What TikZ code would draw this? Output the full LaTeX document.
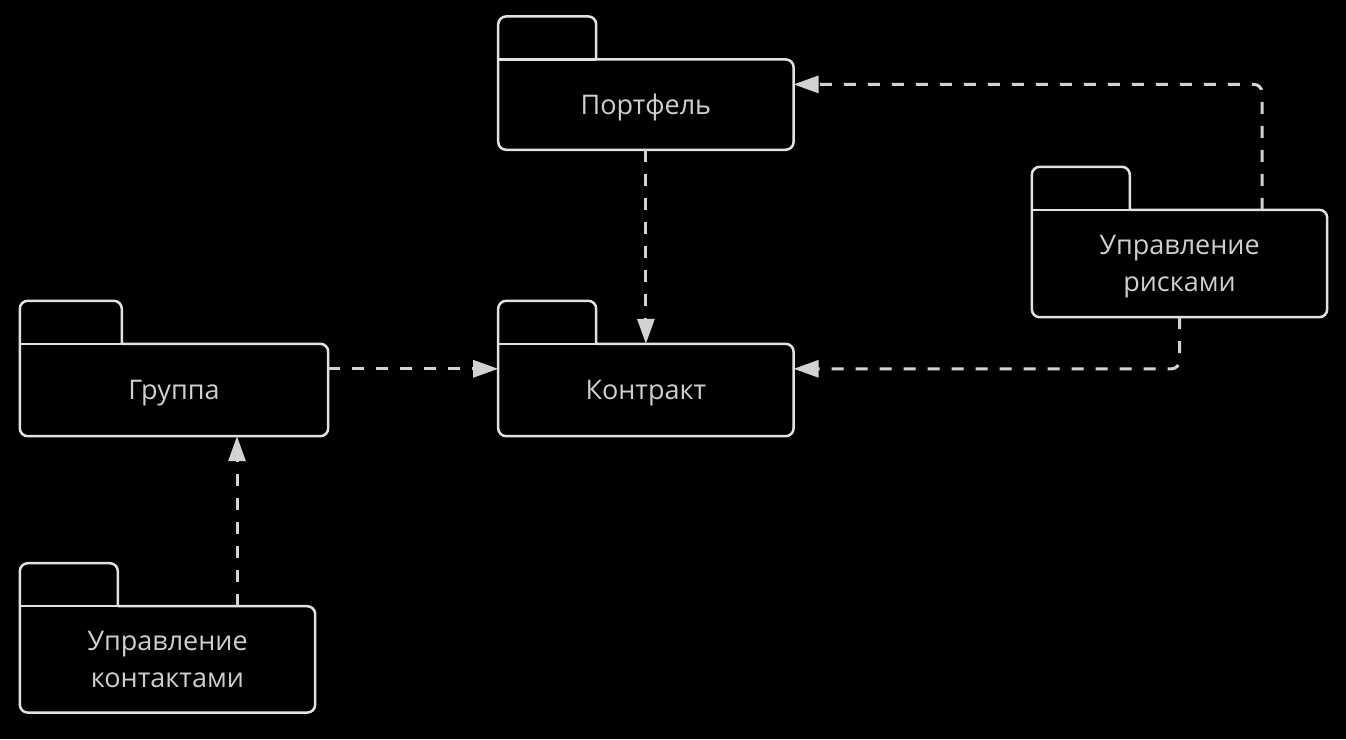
\documentclass[tikz,border=0pt]{standalone}
\usepackage{fontspec}
\setmainfont{Open Sans}
\usetikzlibrary{positioning, arrows.meta}

\definecolor{framegray}{HTML}{E2E2E2}
\definecolor{linegray}{HTML}{D2D2D2}
\definecolor{textgray}{HTML}{CFCFCF}

% folder outline round a package body node
\newcommand{\pkgframe}[2][98]{%
	\draw[frame, rounded corners=8pt] ([xshift=#1pt]#2.north west)
		-- (#2.north east) -- (#2.south east) -- (#2.south west)
		-- (#2.north west) -- ++(0pt,43pt) -- ++(#1pt,0pt) -- ++(0pt,-43pt);
	\draw[frame] (#2.north west) -- ++(#1pt,0pt);
}

\begin{document}
\begin{tikzpicture}[
			x=1pt, y=-1pt,
			nodes = {
				align = center
			},
			package/.style={
				rectangle,
				inner sep=0pt,
				minimum width=295pt,
				text depth=0pt,
				text=textgray,
				font=\fontsize{27}{37}\selectfont
			},
			frame/.style={
				draw=framegray,
				line width=2.5pt
			},
			lines/.style={
				draw=linegray,
				line width=3pt,
				dash pattern=on 12pt off 12pt,
				rounded corners=8pt,
				-{Triangle[length=25pt,width=17pt]}
			}
		]
			\fill[black] (0,0) rectangle (1346,739);

			\node[package,minimum width=308pt,minimum height=92pt]
				(group) at (174,390) {Группа};

			\node[package,minimum height=92pt]
				(contract)
				[right=170pt of group]
				{Контракт};

			\node[package,minimum height=90pt]
				(portfolio)
				[above=194pt of contract]
				{Портфель};

			\node[package,minimum height=107pt] (risk) at (1179.5,263.5) {
				Управление\\
				рисками
			};

			\node[package,minimum height=106pt]
				(contacts)
				[below=170pt of group.south west, anchor=north west]
				{Управление\\контактами};

			\pkgframe[102]{group}
			\pkgframe{contract}
			\pkgframe{portfolio}
			\pkgframe{risk}
			\pkgframe{contacts}

			\draw[lines] (portfolio) -- (contract);
			\draw[lines] ([yshift=-25pt]group.north east) -- ([yshift=-25pt]contract.north west);
			\draw[lines] ([xshift=82.5pt]risk.north) |- ([yshift=-25pt]portfolio.north east);
			\draw[lines] (risk.south) |- ([yshift=-25pt]contract.north east);
			\draw[lines] ([xshift=69.5pt]contacts.north) -- ([xshift=63pt]group.south);
		\end{tikzpicture}
\end{document}
